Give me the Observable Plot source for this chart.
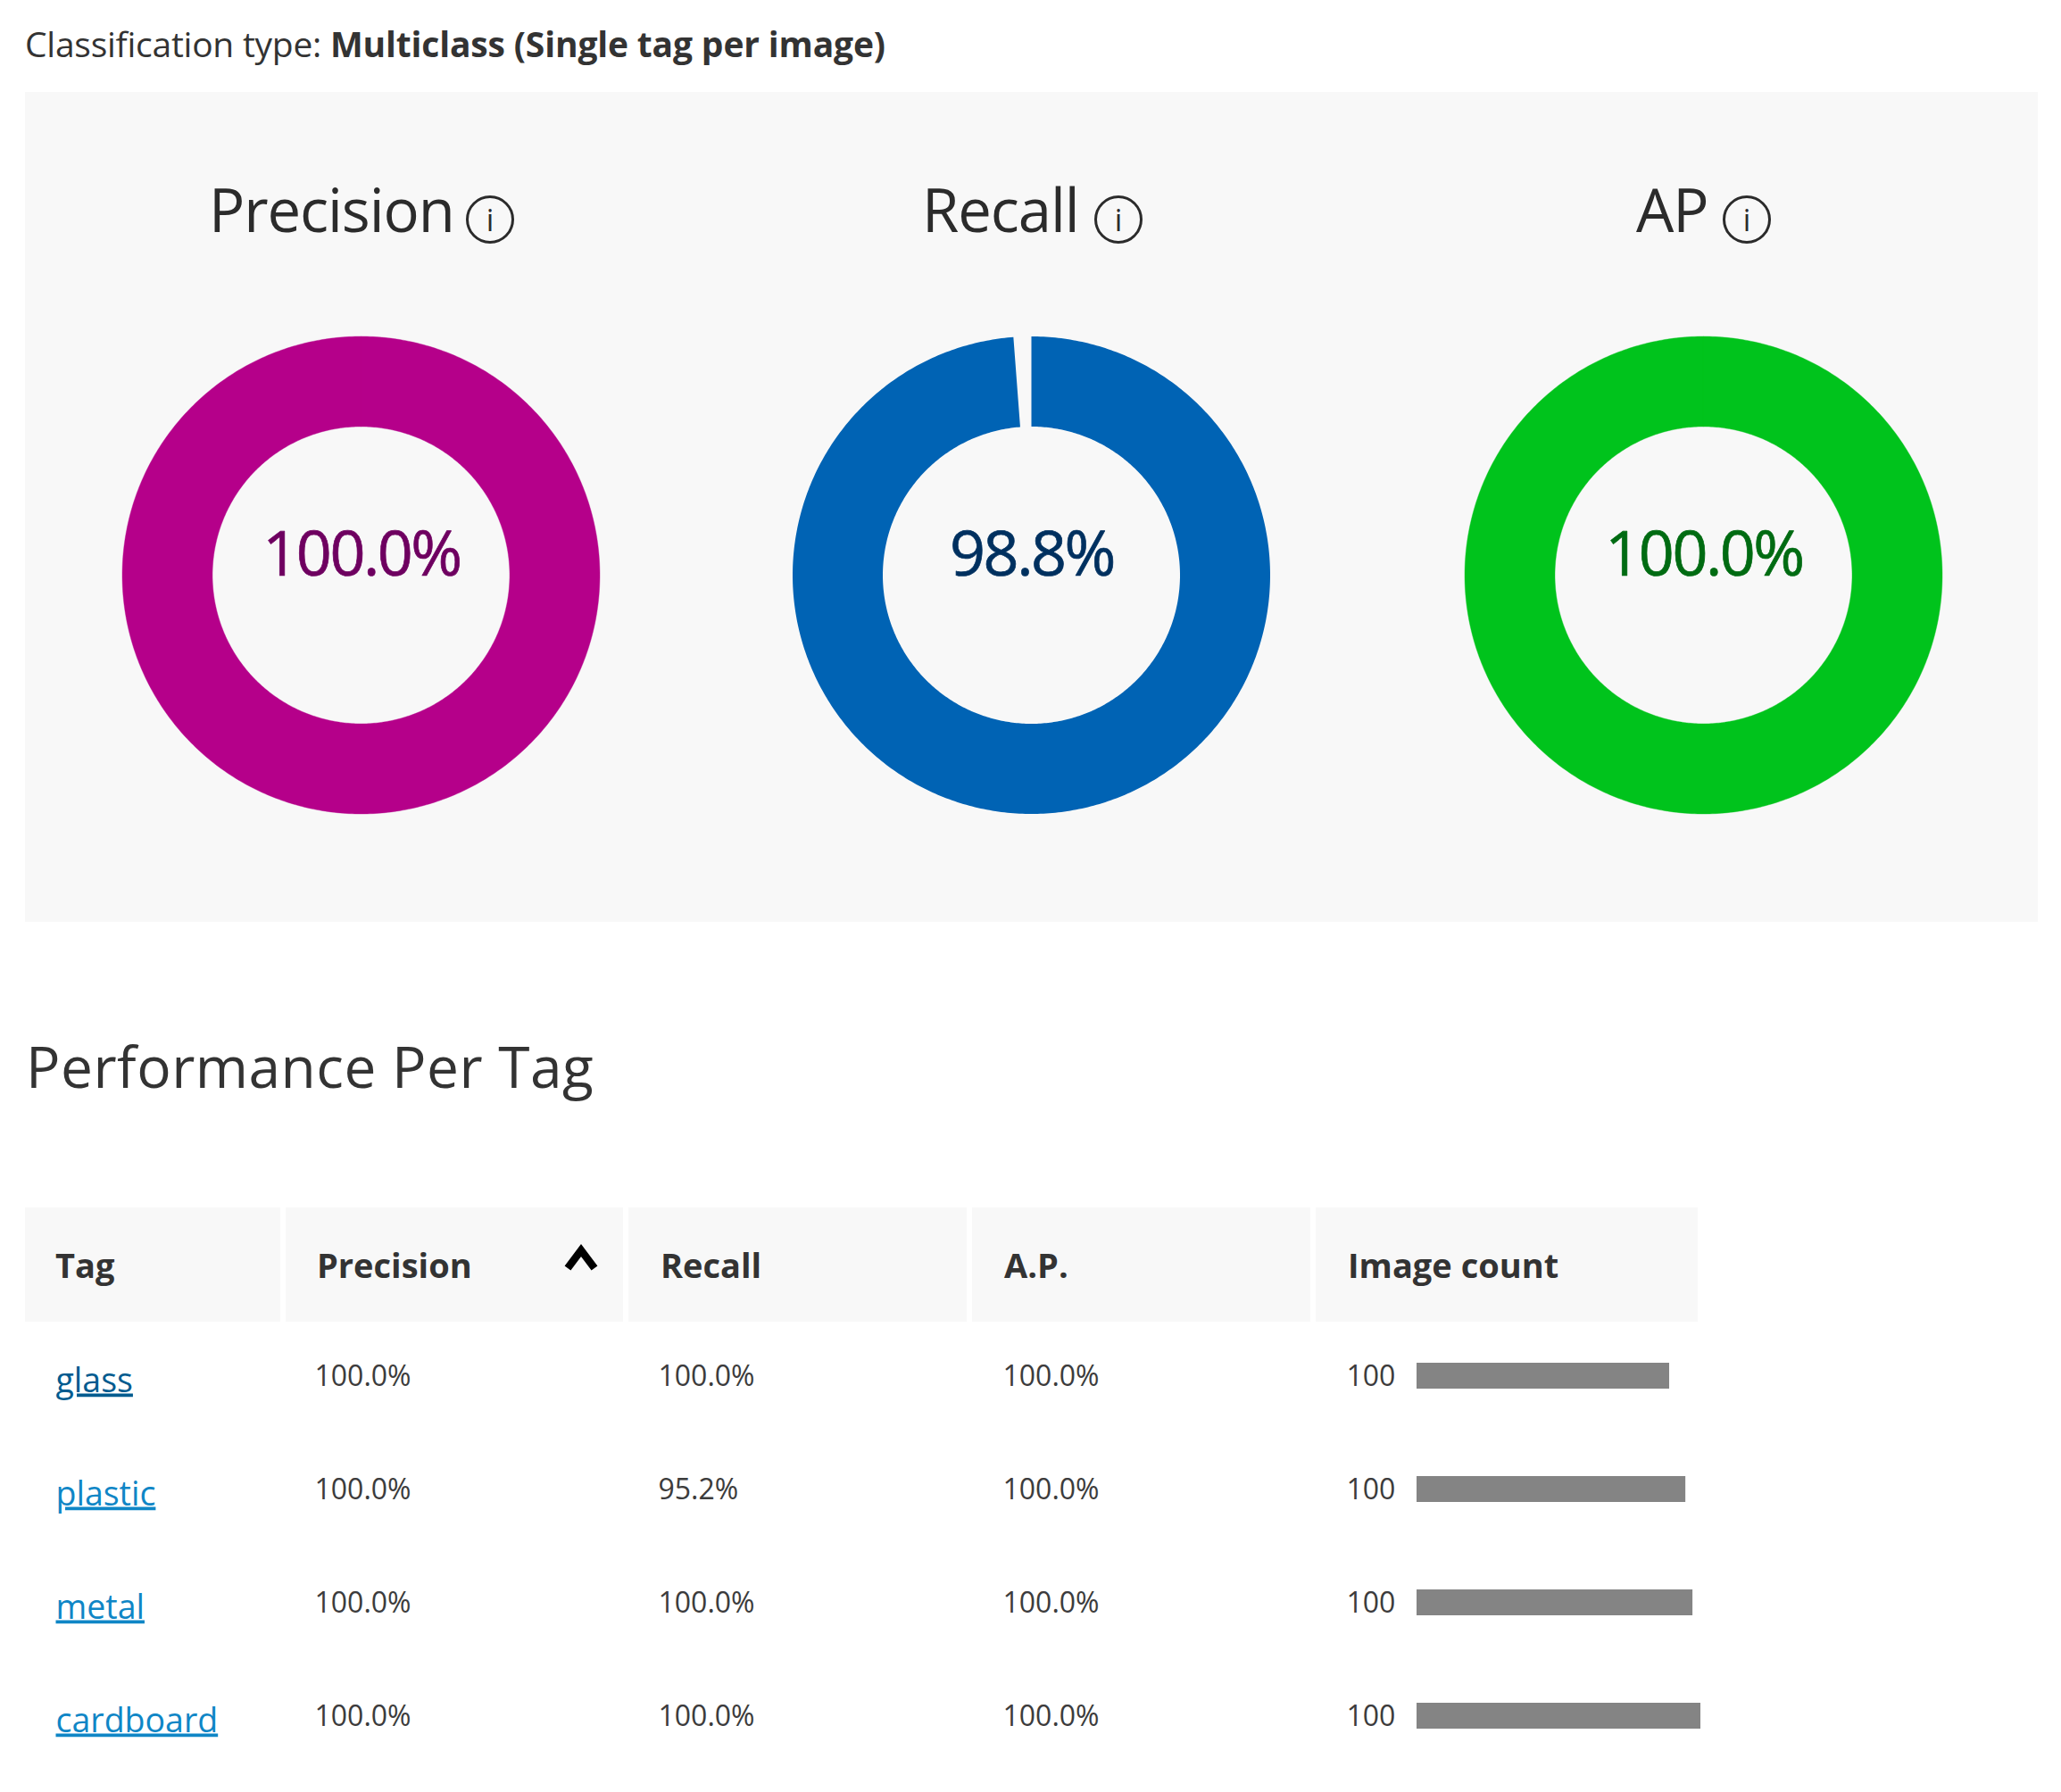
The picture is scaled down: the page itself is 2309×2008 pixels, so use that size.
<!DOCTYPE html>
<html>
<head>
<meta charset="utf-8">
<script src="https://cdn.jsdelivr.net/npm/d3@7"></script>
<script src="https://cdn.jsdelivr.net/npm/@observablehq/plot@0.6"></script>
<style>
  html, body { margin: 0; background: #fff; }
  #page { position: relative; width: 2309px; height: 2008px; overflow: hidden;
          font-family: "Open Sans", sans-serif; color: #333; }
  .abs { position: absolute; white-space: nowrap; }
  #panel { left: 28px; top: 103px; width: 2255px; height: 930px; background: #f8f8f8; }
  #ctype { left: 28px; top: 23px; font-size: 39px; line-height: 52px; letter-spacing: -0.25px; }
  #ctype b { font-weight: 700; letter-spacing: -0.16px; }
  #perf { left: 29px; top: 1150px; font-size: 64px; line-height: 90px; letter-spacing: 0.5px; color: #333; }
  .gauge-title { font-size: 67px; line-height: 90px; top: 189px; font-weight: 400; color: #2b2b2b; letter-spacing: -1.1px; }
  .info { width: 48px; height: 48px; border: 3px solid #2b2b2b; border-radius: 50%; top: 219px;
          font-size: 34px; line-height: 48px; text-align: center; color: #2b2b2b; }
  .th { top: 1353px; height: 128px; background: #f8f8f8; }
  .thtext { top: 1392px; font-size: 38px; line-height: 50px; font-weight: 700; color: #333; letter-spacing: 0px; }
  .gauge-value text { letter-spacing: -2.5px; }
  .tag-link text { text-decoration: underline; text-decoration-thickness: 2.5px; text-underline-offset: 5px; }
</style>
</head>
<body>
<div id="page"></div>
<script>
// ---- data ----
const gaugeLabels = ["Precision", "Recall", "AP"];
const gaugeValues = [100.0, 98.8, 100.0];
const gaugeFills = ["#b5008a", "#0063b4", "#00c31c"];
const gaugeTextColors = ["#6e0060", "#00305f", "#006b12"];

const tags = ["glass", "plastic", "metal", "cardboard"];
const tagPrecision = [100.0, 100.0, 100.0, 100.0];
const tagRecall = [100.0, 95.2, 100.0, 100.0];
const tagAP = [100.0, 100.0, 100.0, 100.0];
const tagImageCount = [100, 100, 100, 100];
const tagBarShare = [89, 94.7, 97.2, 100];   // drawn length of the grey bars, % of the longest
const tagLinkColors = ["#005b8f", "#0f86c6", "#0f86c6", "#0f86c6"];

const columns = ["Tag", "Precision", "Recall", "A.P.", "Image count"];

// ---- layout ----
const page = document.getElementById("page");
function add(cls, id, css, html) {
  const d = document.createElement("div");
  d.className = "abs " + cls;
  if (id) d.id = id;
  Object.assign(d.style, css);
  d.innerHTML = html || "";
  page.appendChild(d);
  return d;
}
const noBg = {background: "transparent", fontFamily: '"Open Sans", sans-serif', overflow: "visible"};

add("", "panel");
add("", "ctype", {}, "Classification type: <b>Multiclass (Single tag per image)</b>");

const gaugeCenters = [404.5, 1155.5, 1908];
const titleX = [234, 1033, 1833];
const infoX = [549, 1253, 1957];
const outerR = 267.5, innerShare = 166.5 / 267.5;

gaugeLabels.forEach((label, i) => {
  add("gauge-title", null, {left: titleX[i] + "px"}, label);
  add("info", null, {left: (infoX[i] - 27) + "px"}, "i");

  const angles = d3.range(0, gaugeValues[i], 0.2).concat(gaugeValues[i]);
  const ring = angles.map(p => {
    const a = (p / 100) * 2 * Math.PI;
    return {xo: Math.sin(a), yo: Math.cos(a), xi: innerShare * Math.sin(a), yi: innerShare * Math.cos(a)};
  });
  const size = outerR * 2;
  const chart = Plot.plot({
    width: size, height: size, margin: 0, axis: null,
    style: noBg,
    x: {domain: [-1, 1], range: [0, size]},
    y: {domain: [-1, 1], range: [size, 0]},
    marks: [
      Plot.area(ring, {x1: "xo", y1: "yo", x2: "xi", y2: "yi", fill: gaugeFills[i], stroke: gaugeValues[i] === 100 ? gaugeFills[i] : "none", strokeWidth: 0.4}),
      Plot.text([gaugeValues[i]], {
        x: () => 0, y: () => 0, dy: -22,
        text: d => d.toFixed(1) + "%",
        fontSize: 70, fill: gaugeTextColors[i], stroke: gaugeTextColors[i], strokeWidth: 0.7, className: "gauge-value"
      })
    ]
  });
  const w = add("", null, {left: (gaugeCenters[i] - outerR) + "px", top: "377px"});
  w.appendChild(chart);
});

add("", "perf", {}, "Performance Per Tag");

// table header
const thBoxes = [[28, 314], [320, 698], [704, 1083], [1089, 1468], [1474, 1902]];
const thTextX = [62, 355, 740, 1125, 1510];
columns.forEach((c, i) => {
  add("th", null, {left: thBoxes[i][0] + "px", width: (thBoxes[i][1] - thBoxes[i][0]) + "px"});
  add("thtext", null, {left: thTextX[i] + "px"}, c);
});
add("", null, {left: "631px", top: "1392px"},
  '<svg width="40" height="36" style="display:block"><path d="M5 29 L20 9 L35 29" fill="none" stroke="#000" stroke-width="8.5"/></svg>');

// table body: text cells
const cells = tags.flatMap((t, i) => [
  {tag: t, col: 1, label: tagPrecision[i].toFixed(1) + "%"},
  {tag: t, col: 2, label: tagRecall[i].toFixed(1) + "%"},
  {tag: t, col: 3, label: tagAP[i].toFixed(1) + "%"},
  {tag: t, col: 4, label: String(tagImageCount[i])}
]);
const links = tags.map((t, i) => ({tag: t, col: 0, color: tagLinkColors[i]}));

const tableText = Plot.plot({
  width: 1580, height: 528, margin: 0, axis: null,
  style: noBg,
  x: {type: "linear", domain: d3.range(columns.length), range: [62, 352, 737, 1123, 1508]},
  y: {type: "point", domain: tags, range: [61, 443], padding: 0},
  marks: [
    Plot.text(links, {x: "col", y: "tag", text: "tag", fill: "color", fontSize: 37.5, textAnchor: "start", dy: 5, className: "tag-link"}),
    Plot.text(cells, {x: "col", y: "tag", text: "label", fill: "#3c3c3c", fontSize: 32, textAnchor: "start"})
  ]
});
add("", null, {left: "0px", top: "1480px", width: "1580px"}).appendChild(tableText);

// table body: image-count bars
const bars = tags.map((t, i) => ({tag: t, share: tagBarShare[i]}));
const barChart = Plot.plot({
  width: 318, height: 411, margin: 0, axis: null,
  style: noBg,
  x: {domain: [0, 100], range: [0, 318]},
  y: {type: "band", domain: tags, range: [0, 411], paddingInner: 0.772, paddingOuter: 0, align: 0},
  marks: [Plot.barX(bars, {x: "share", y: "tag", fill: "#848484"})]
});
add("", null, {left: "1587px", top: "1527px"}).appendChild(barChart);
</script>
</body>
</html>
